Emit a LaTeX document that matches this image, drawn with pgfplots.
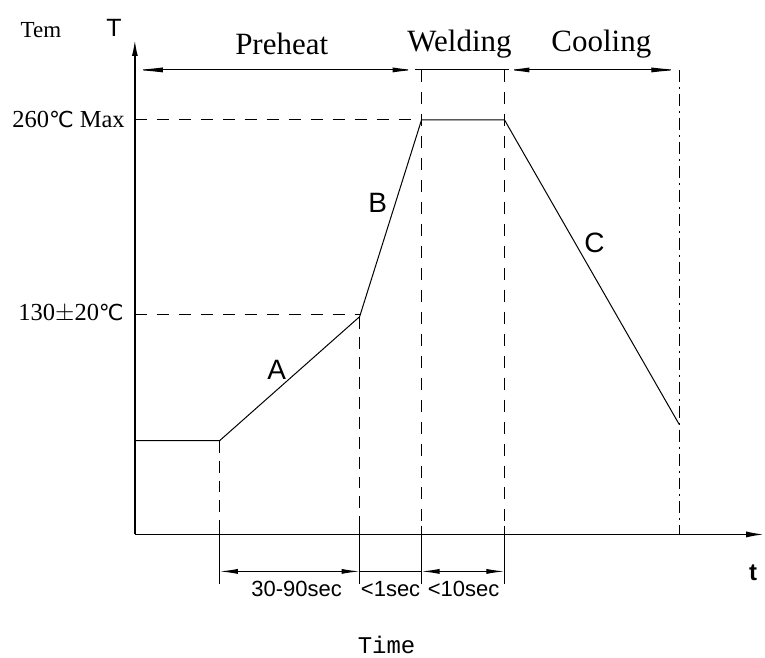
\documentclass[border=0pt]{standalone}
\usepackage{pgfplots}
\pgfplotsset{compat=1.18}
\usetikzlibrary{arrows.meta}
\usepackage{fontspec}
\setmainfont{Liberation Serif}
\newfontfamily\lsans{Liberation Sans}
\newfontfamily\lmono{Liberation Mono}
\newfontfamily\djs{DejaVu Sans}
\newcommand{\degC}{{\djs\fontsize{22}{22}\selectfont ℃}}
\begin{document}
\begin{tikzpicture}
\begin{axis}[scale only axis, width=765pt, height=657pt,
  xmin=0, xmax=765, ymin=0, ymax=657, y dir=reverse,
  hide axis, clip=false]
% invisible frame for bounding box
\addplot[draw=none] coordinates {(0,0) (765,657)};
% axes
\addplot[line width=1.6pt, -{Latex[length=16pt,width=6pt]}] coordinates {(135,535) (135,40)};
\addplot[line width=1.6pt, -{Latex[length=18pt,width=6pt]}] coordinates {(135,535) (765,535)};
% top dimension line
\addplot[line width=1pt, {Latex[length=28pt,width=5pt]}-{Latex[length=22pt,width=5pt]}] coordinates {(135,70) (415,70)};
\addplot[line width=1pt] coordinates {(415,70) (510,70)};
\addplot[line width=1pt, {Latex[length=22pt,width=5pt]}-{Latex[length=28pt,width=5pt]}] coordinates {(508,70) (680,70)};
% dashed reference lines
\addplot[line width=1pt, dash pattern=on 12pt off 10pt] coordinates {(135,120) (422,120)};
\addplot[line width=1pt, dash pattern=on 12pt off 10pt] coordinates {(135,315) (360,315)};
% profile curve
\addplot[line width=1pt] coordinates {(135,441) (220,441) (360,317) (422,120) (505,120) (680,425)};
% vertical dashed lines
\addplot[line width=1pt, dash pattern=on 12pt off 8pt] coordinates {(220,441) (220,535)};
\addplot[line width=1pt, dash pattern=on 12pt off 8pt] coordinates {(360,317) (360,535)};
\addplot[line width=1pt, dash pattern=on 12pt off 10pt] coordinates {(422,70) (422,535)};
\addplot[line width=1pt, dash pattern=on 12pt off 10pt] coordinates {(505,70) (505,535)};
\addplot[line width=1pt, dash pattern=on 12pt off 5pt on 2pt off 5pt] coordinates {(680,70) (680,535)};
% bottom extension lines
\addplot[line width=1pt] coordinates {(220,527) (220,585)};
\addplot[line width=1pt] coordinates {(360,527) (360,585)};
\addplot[line width=1pt] coordinates {(422,527) (422,585)};
\addplot[line width=1pt] coordinates {(505,527) (505,585)};
% bottom dimension lines
\addplot[line width=1pt, {Latex[length=18pt,width=5pt]}-{Latex[length=18pt,width=5pt]}] coordinates {(220,572) (360,572)};
\addplot[line width=1pt] coordinates {(360,572) (422,572)};
\addplot[line width=1pt, {Latex[length=18pt,width=5pt]}-{Latex[length=18pt,width=5pt]}] coordinates {(422,572) (505,572)};
% texts
\node[font=\fontsize{23}{23}\selectfont] at (axis cs:41,30) {Tem};
\node[font=\lsans\fontsize{25}{25}\selectfont] at (axis cs:114,28) {T};
\node[font=\fontsize{31}{31}\selectfont] at (axis cs:282,44) {Preheat};
\node[font=\fontsize{31}{31}\selectfont] at (axis cs:460,44) {Welding};
\node[font=\fontsize{31}{31}\selectfont] at (axis cs:602,44) {Cooling};
\node[font=\fontsize{24.5}{24.5}\selectfont, anchor=east, inner sep=0pt] at (axis cs:125,120) {260\degC{} Max};
\node[font=\fontsize{24.5}{24.5}\selectfont, anchor=east, inner sep=0pt] at (axis cs:124,314) {130$\pm$20\degC};
\node[font=\lsans\fontsize{28}{28}\selectfont] at (axis cs:277,370) {A};
\node[font=\lsans\fontsize{28}{28}\selectfont] at (axis cs:378,203) {B};
\node[font=\lsans\fontsize{28}{28}\selectfont] at (axis cs:595,243) {C};
\node[font=\lsans\bfseries\fontsize{24}{24}\selectfont] at (axis cs:754,573) {t};
\node[font=\lsans\fontsize{22}{22}\selectfont] at (axis cs:297,590) {30-90sec};
\node[font=\lsans\fontsize{22}{22}\selectfont] at (axis cs:391,590) {<1sec};
\node[font=\lsans\fontsize{22}{22}\selectfont] at (axis cs:464,590) {<10sec};
\node[font=\lmono\fontsize{24}{24}\selectfont] at (axis cs:387,646) {Time};
\end{axis}
\end{tikzpicture}
\end{document}
